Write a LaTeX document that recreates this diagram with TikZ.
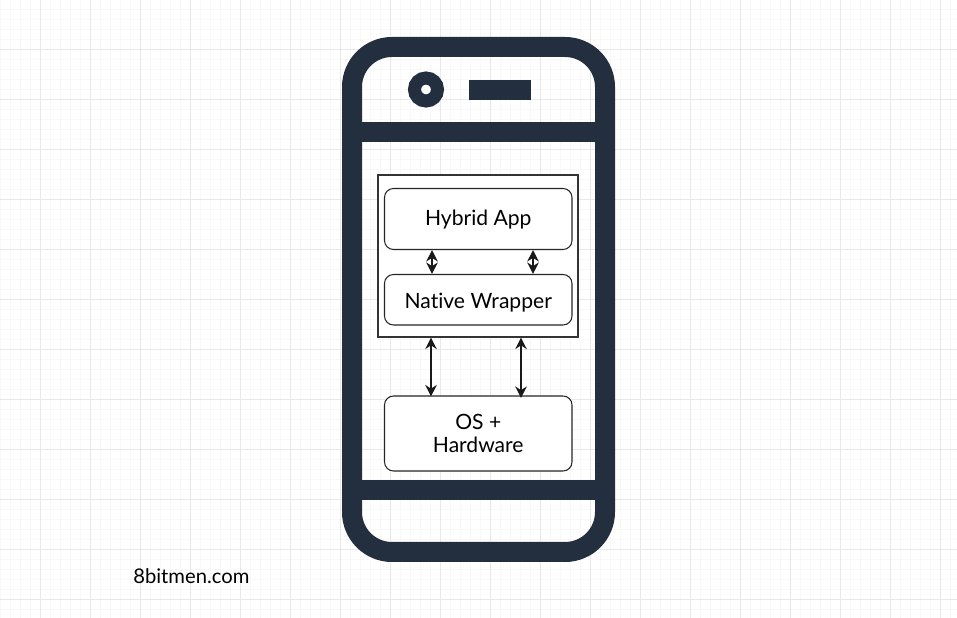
\documentclass[tikz,border=0pt]{standalone}
\usepackage{fontspec}
\setmainfont{Lato}[Ligatures=CommonOff]
\usepackage{xcolor}
\usetikzlibrary{arrows.meta,positioning}
\definecolor{phonenavy}{HTML}{232E3E}
\definecolor{gridmajor}{HTML}{E8E8E8}
\definecolor{gridminor}{HTML}{F8F8F8}
\tikzset{
  phoneline/.style={draw=phonenavy,line width=4mm},
  layerbox/.style={draw=black!85,fill=white,line width=0.6pt,rounded corners=1.8mm,align=center,minimum width=3.75cm,font=\fontsize{12}{13.5}\selectfont},
  outerbox/.style={draw=black!80,fill=white,line width=0.65pt,minimum width=4cm,minimum height=3.24cm},
  link/.style={{Stealth[length=2.3mm,width=2.3mm]}-{Stealth[length=2.3mm,width=2.3mm]},line width=0.7pt,black!90}
}
\begin{document}
\begin{tikzpicture}
  \useasboundingbox (0,0) rectangle (19.14,12.36);
  \fill[white] (0,0) rectangle (19.14,12.36);
  % background grid
  \begin{scope}[shift={(0.81,0.37)}]
    \draw[gridminor,line width=0.4pt,step=0.2] (-0.81,-0.37) grid (18.33,11.99);
    \draw[gridmajor,line width=0.5pt,step=1] (-0.81,-0.37) grid (18.33,11.99);
  \end{scope}
  % phone
  \draw[phoneline,rounded corners=8mm] (7.04,1.32) rectangle (12.10,11.42);
  \draw[phoneline] (7.04,9.72) -- (12.10,9.72);
  \draw[phoneline] (7.04,2.56) -- (12.10,2.56);
  \draw[draw=phonenavy,line width=2.6mm] (8.52,10.57) circle (2.3mm);
  \fill[phonenavy] (9.38,10.36) rectangle (10.62,10.76);
  % layers
  \node[outerbox] (wrapperframe) at (9.56,7.24) {};
  \node[layerbox,minimum height=1.22cm,text height=9.8pt] (hybrid) at (9.565,7.98) {Hybrid App};
  \node[layerbox,minimum height=1.01cm,text height=12pt] (native) at (9.565,6.365) {Native Wrapper};
  \node[layerbox,minimum height=1.5cm] (os) at (9.565,3.69) {OS +\\Hardware};
  \node[anchor=west,inner sep=0pt,font=\fontsize{11.5}{13.5}\selectfont] (site) at (2.66,0.84) {8bitmen.com};
  % connectors
  \coordinate (leftinner) at (8.64,0);
  \coordinate (rightinner) at (10.66,0);
  \coordinate (leftouter) at (8.62,0);
  \coordinate (rightouter) at (10.42,0);
  \draw[link] (hybrid.south -| leftinner) -- (native.north -| leftinner);
  \draw[link] (hybrid.south -| rightinner) -- (native.north -| rightinner);
  \draw[link] (wrapperframe.south -| leftouter) -- ([yshift=-0.2mm]os.north -| leftouter);
  \draw[link] (wrapperframe.south -| rightouter) -- ([yshift=-0.5mm]os.north -| rightouter);
\end{tikzpicture}
\end{document}
